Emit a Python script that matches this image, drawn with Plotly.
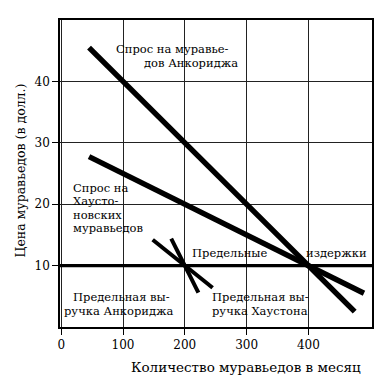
import plotly.graph_objects as go

# Data
q_anch_demand = [45, 475]
p_anch_demand = [45.5, 2.5]
q_hou_demand = [45, 490]
p_hou_demand = [27.75, 5.5]
q_mr_anch = [178, 222]
p_mr_anch = [14.4, 5.6]
q_mr_hou = [148, 245]
p_mr_hou = [14.2, 6.4]
q_mc = [-14, 503]
p_mc = [10, 10]

x_ticks = [0, 100, 200, 300, 400]
y_ticks = [10, 20, 30, 40]

# label lines: text, x (quantity), y (price), anchor
label_lines = [
    ("Спрос на муравье-", 180, 45.3, "center"),
    ("дов Анкориджа", 210, 43.0, "center"),
    ("Спрос на", 15, 22.7, "left"),
    ("Хаусто-", 15, 20.5, "left"),
    ("новских", 15, 18.3, "left"),
    ("муравьедов", 15, 16.1, "left"),
    ("Предельные", 273, 12.05, "center"),
    ("издержки", 446, 12.05, "center"),
    ("Предельная вы-", 98, 4.9, "center"),
    ("ручка Анкориджа", 93, 2.65, "center"),
    ("Предельная вы-", 323, 4.9, "center"),
    ("ручка Хаустона", 321, 2.65, "center"),
]

FONT = "DejaVu Serif"
FS = 11.5

fig = go.Figure()
for q, p, w in [
    (q_mc, p_mc, 3.3),
    (q_anch_demand, p_anch_demand, 5.5),
    (q_hou_demand, p_hou_demand, 5.5),
    (q_mr_anch, p_mr_anch, 4),
    (q_mr_hou, p_mr_hou, 4),
]:
    fig.add_trace(go.Scatter(x=q, y=p, mode="lines",
                             line=dict(color="black", width=w),
                             showlegend=False, hoverinfo="skip", cliponaxis=False))

for text, x, y, anchor in label_lines:
    fig.add_annotation(x=x, y=y, text=text, showarrow=False,
                       xanchor=anchor, yanchor="middle",
                       font=dict(family=FONT, size=FS, color="black"))

fig.add_annotation(x=0.595, y=-0.13, xref="paper", yref="paper",
                   text="Количество муравьедов в месяц", showarrow=False,
                   xanchor="center", yanchor="middle",
                   font=dict(family=FONT, size=13.5, color="black"))
fig.add_annotation(x=-0.128, y=0.51, xref="paper", yref="paper",
                   text="Цена муравьедов (в долл.)", showarrow=False,
                   textangle=-90, xanchor="center", yanchor="middle",
                   font=dict(family=FONT, size=12.5, color="black"))

# page body has an 8px default margin; size the figure so the plot lands where the reference has it
fig.update_layout(
    width=381, height=379,
    margin=dict(l=52, r=17, t=12, b=60, autoexpand=False),
    paper_bgcolor="white", plot_bgcolor="white",
    font=dict(family=FONT, size=FS, color="black"),
    xaxis=dict(range=[-2, 503], tickvals=x_ticks, ticktext=[str(v) for v in x_ticks],
               showgrid=True, gridcolor="#222", gridwidth=1,
               showline=True, mirror=True, linecolor="black", linewidth=1.5,
               ticks="outside", ticklen=6, tickcolor="black", zeroline=False,
               tickfont=dict(family=FONT, size=12),
               automargin=False, fixedrange=True),
    yaxis=dict(range=[0, 50], tickvals=y_ticks, ticktext=[str(v) for v in y_ticks],
               showgrid=True, gridcolor="#222", gridwidth=1,
               showline=True, mirror=True, linecolor="black", linewidth=1.5,
               ticks="outside", ticklen=6, tickcolor="black", zeroline=False,
               tickfont=dict(family=FONT, size=12),
               automargin=False, fixedrange=True),
)

fig.write_html("out.html")
